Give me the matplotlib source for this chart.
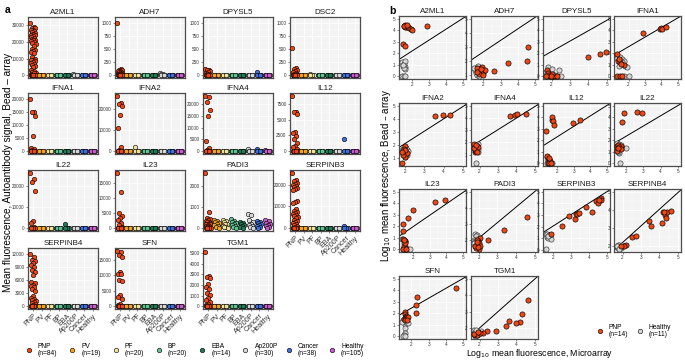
import matplotlib
matplotlib.use("Agg")
import matplotlib.pyplot as plt
from matplotlib.ticker import MultipleLocator

plt.rcParams['font.family'] = ['Liberation Sans', 'DejaVu Sans']

W, H = 685, 364

# ---------------- data: panel a ----------------
groups = ["PNP", "PV", "PF", "BP", "EBA", "Ap200P", "Cancer", "Healthy"]
group_n = [84, 19, 20, 20, 14, 30, 38, 105]
group_colors = ["#EC4715", "#F2A31F", "#EEE29C", "#5EC391", "#1F7A55",
                "#D6D6D6", "#3D6FDA", "#C65BC8"]

genes_a = ["A2ML1", "ADH7", "DPYSL5", "DSC2", "IFNA1", "IFNA2", "IFNA4", "IL12",
           "IL22", "IL23", "PADI3", "SERPINB3", "SERPINB4", "SFN", "TGM1"]

yticks_a = {
    "A2ML1": [0, 10000, 20000, 30000], "ADH7": [0, 250, 500, 750, 1000],
    "DPYSL5": [0, 250, 500, 750, 1000], "DSC2": [0, 250, 500, 750, 1000],
    "IFNA1": [0, 5000, 10000, 15000, 20000], "IFNA2": [0, 10000, 20000],
    "IFNA4": [0, 5000, 10000, 15000, 20000], "IL12": [0, 2500, 5000, 7500],
    "IL22": [0, 10000, 20000], "IL23": [0, 5000, 10000, 15000],
    "PADI3": [0, 1000, 2000], "SERPINB3": [0, 10000, 20000],
    "SERPINB4": [0, 3000, 6000, 9000, 12000], "SFN": [0, 5000, 10000, 15000],
    "TGM1": [0, 1000, 2000, 3000, 4000, 5000],
}
ymax_a = {"ADH7": 1000, "DPYSL5": 1000, "DSC2": 1000}

PNP = {
    "A2ML1": [31500, 29000, 28500, 28200, 27500, 27000, 26500, 26000, 25500, 25000,
              24500, 24000, 23500, 23000, 22500, 22000, 21500, 21000, 20500, 20000,
              19500, 19000, 17500, 16000, 15000, 14500, 14000, 13500, 11000, 10000,
              9500, 9000, 8500, 8000, 7500, 7000, 6000, 5500, 5000, 3000, 2500, 2000,
              1500, 1200, 800, 500, 300, 200, 100, 0, 0, 0, 0, 0, 0, 0, 0, 0, 0, 0],
    "ADH7": [1000, 130, 110, 100, 90, 80, 70, 60, 50, 40, 35, 30, 25, 20, 15, 10, 5,
             0, 0, 0, 0, 0, 0, 0, 0, 0],
    "DPYSL5": [130, 110, 95, 80, 60, 45, 30, 20, 10, 0, 0, 0, 0, 0, 0, 0, 0, 0],
    "DSC2": [530, 150, 130, 110, 90, 70, 50, 30, 20, 10, 0, 0, 0, 0, 0, 0, 0, 0],
    "IFNA1": [20000, 15300, 15000, 13500, 6000, 1200, 800, 500, 300, 100,
              0, 0, 0, 0, 0, 0, 0, 0, 0, 0],
    "IFNA2": [26000, 22500, 22000, 21000, 17000, 11000, 2000, 600, 300, 100,
              0, 0, 0, 0, 0, 0, 0, 0, 0, 0],
    "IFNA4": [23500, 23000, 21000, 17500, 15000, 4500, 1500, 600, 300, 100,
              0, 0, 0, 0, 0, 0, 0, 0, 0, 0],
    "IL12": [8800, 6300, 6200, 5900, 3000, 2900, 2400, 2000, 1300, 900, 600, 300, 100,
             0, 0, 0, 0, 0, 0, 0, 0, 0, 0],
    "IL22": [26500, 23500, 22000, 18000, 3500, 2500, 800, 300, 100,
             0, 0, 0, 0, 0, 0, 0, 0, 0, 0],
    "IL23": [18500, 12000, 5000, 4000, 3500, 2800, 1800, 1000, 500, 200,
             0, 0, 0, 0, 0, 0, 0, 0, 0, 0],
    "PADI3": [2600, 750, 500, 450, 400, 350, 300, 280, 250, 220, 200, 180, 150, 120,
              100, 80, 50, 30, 0, 0, 0, 0, 0, 0],
    "SERPINB3": [25500, 22000, 21500, 21000, 20500, 20000, 19500, 19000, 18500, 18000,
                 17500, 12500, 12000, 11500, 9000, 8000, 7500, 7000, 6500, 6000, 5500,
                 5000, 4500, 4000, 3500, 3000, 2500, 2000, 1500, 1000, 500, 300,
                 0, 0, 0, 0, 0, 0, 0, 0, 0, 0],
    "SERPINB4": [12000, 11500, 10800, 10500, 10000, 9500, 9200, 8500, 8000, 7200, 5700,
                 5300, 5000, 4700, 4500, 4000, 3500, 2400, 2000, 1800, 1500, 1200, 1000,
                 700, 500, 300, 100, 0, 0, 0, 0, 0, 0, 0, 0, 0, 0],
    "SFN": [18000, 17500, 16500, 16000, 11000, 10500, 10300, 8500, 8300, 3500, 3000,
            2500, 800, 400, 100, 0, 0, 0, 0, 0, 0, 0, 0, 0, 0],
    "TGM1": [5100, 2900, 2800, 2700, 2100, 1800, 1600, 1300, 1100, 800, 600, 400, 200,
             100, 0, 0, 0, 0, 0, 0, 0, 0, 0, 0],
}
# non-PNP groups: values near zero unless listed for a gene
baseline = [0, 0, 0, 0, 0, 0, 0]
PV = {"PADI3": [400, 350, 300, 250, 200, 150, 100, 50, 0]}
PF = {"DSC2": [20, 10, 0, 0, 0, 0], "IFNA2": [2000, 0, 0, 0, 0, 0, 0],
      "PADI3": [380, 320, 280, 220, 180, 120, 80, 40, 0]}
BP = {"PADI3": [420, 350, 300, 250, 200, 150, 100, 50, 0]}
EBA = {"IL22": [2200, 0, 0, 0, 0, 0], "PADI3": [300, 250, 200, 150, 100, 50, 0]}
AP200P = {"A2ML1": [1000, 0, 0, 0, 0, 0, 0], "ADH7": [40, 30, 20, 10, 0, 0, 0],
          "IFNA4": [1000, 300, 0, 0, 0, 0, 0],
          "PADI3": [650, 600, 400, 300, 200, 150, 100, 50, 0]}
CANCER = {"DPYSL5": [60, 0, 0, 0, 0, 0, 0], "IL12": [1900, 0, 0, 0, 0, 0, 0],
          "IFNA4": [800, 200, 0, 0, 0, 0, 0], "SERPINB3": [900, 0, 0, 0, 0, 0],
          "PADI3": [350, 300, 250, 200, 150, 100, 50, 0]}
HEALTHY = {"IFNA4": [700, 200, 0, 0, 0, 0, 0],
           "PADI3": [380, 320, 260, 200, 150, 100, 50, 0]}
group_data = [PNP, PV, PF, BP, EBA, AP200P, CANCER, HEALTHY]

# ---------------- data: panel b ----------------
genes_b = ["A2ML1", "ADH7", "DPYSL5", "IFNA1", "IFNA2", "IFNA4", "IL12", "IL22",
           "IL23", "PADI3", "SERPINB3", "SERPINB4", "SFN", "TGM1"]
b_pnp_x = {
    "A2ML1": [1.5, 1.6, 1.7, 1.55, 1.65, 1.75, 1.8, 1.9, 2.0, 2.9, 1.45, 1.6, 1.5, 1.7],
    "ADH7": [2.6, 3.4, 4.6, 4.55, 1.7, 1.8, 2.0, 1.6, 1.9, 1.75, 2.1, 1.65, 1.85, 1.95],
    "DPYSL5": [4.0, 4.6, 4.95, 1.75, 1.9, 2.0, 2.1, 1.8, 2.2, 1.85, 2.0, 1.95, 2.3, 1.7],
    "IFNA1": [2.85, 3.9, 4.0, 4.05, 4.25, 1.3, 1.35, 1.5, 1.7, 1.3, 1.45, 1.6, 1.4, 1.55],
    "IFNA2": [3.55, 3.95, 4.35, 2.0, 1.95, 1.85, 2.05, 1.9, 2.0, 1.95, 2.1, 1.9, 2.0, 1.85],
    "IFNA4": [3.65, 3.9, 4.05, 4.5, 1.7, 1.75, 1.8, 1.85, 1.75, 1.8, 1.9, 1.7, 1.85, 1.8],
    "IL12": [1.7, 1.7, 1.75, 1.8, 1.35, 2.95, 3.4, 1.4, 1.5, 1.6, 1.45, 1.55, 1.65, 1.5],
    "IL22": [1.9, 2.65, 2.95, 1.8, 1.5, 1.6, 1.7, 1.55, 1.65, 1.5, 1.75, 1.6, 1.7, 1.55],
    "IL23": [1.4, 1.7, 2.0, 3.35, 3.95, 1.4, 1.4, 1.5, 1.45, 1.5, 1.4, 1.6, 1.55, 1.45],
    "PADI3": [4.55, 3.35, 2.5, 2.05, 2.0, 1.9, 1.95, 1.85, 2.0, 1.9, 1.8, 2.05, 1.95, 1.9],
    "SERPINB3": [2.5, 2.9, 3.2, 3.25, 3.35, 3.45, 3.85, 4.15, 4.4, 4.5, 4.65, 4.65, 1.9, 4.55],
    "SERPINB4": [2.2, 2.5, 2.75, 3.45, 3.55, 4.15, 4.2, 4.3, 4.35, 4.4, 4.65, 2.1, 4.25, 1.9],
    "SFN": [4.6, 2.35, 2.25, 2.25, 1.6, 1.6, 1.7, 1.75, 1.65, 1.55, 1.7, 1.8, 1.6, 1.75],
    "TGM1": [4.6, 4.3, 4.2, 4.0, 3.6, 3.45, 2.9, 2.4, 2.2, 1.75, 1.85, 2.0, 1.7, 1.9],
}
b_pnp_y = {
    "A2ML1": [4.4, 4.5, 4.4, 4.3, 4.25, 4.3, 4.2, 4.1, 4.0, 4.4, 2.8, 2.6, 4.35, 4.45],
    "ADH7": [1.3, 1.85, 3.0, 2.05, 1.4, 1.3, 1.2, 1.5, 1.6, 1.1, 1.35, 1.25, 1.45, 1.05],
    "DPYSL5": [1.7, 1.95, 2.1, 0.55, 0.0, 0.0, 0.0, 0.3, 0.0, 0.1, 0.2, 0.05, 0.0, 0.0],
    "IFNA1": [3.8, 4.1, 4.2, 4.15, 4.3, 1.9, 1.3, 1.2, 1.0, 0.0, 0.0, 0.0, 1.5, 1.1],
    "IFNA2": [4.2, 4.3, 4.3, 1.95, 1.2, 0.6, 1.3, 1.5, 1.1, 1.7, 1.4, 1.25, 1.6, 1.45],
    "IFNA4": [4.2, 4.25, 4.3, 4.35, 1.9, 1.2, 1.5, 1.7, 1.4, 1.3, 1.6, 1.55, 1.25, 1.75],
    "IL12": [3.8, 4.0, 3.7, 3.3, 2.8, 3.5, 3.8, 0.6, 0.3, 0.2, 0.0, 0.0, 0.0, 0.45],
    "IL22": [4.35, 4.45, 4.4, 3.6, 1.5, 1.2, 1.4, 1.6, 1.3, 1.1, 1.5, 1.45, 1.25, 1.35],
    "IL23": [2.2, 2.7, 3.45, 4.1, 4.25, 1.6, 0.9, 0.7, 0.3, 0.0, 0.0, 0.0, 0.5, 0.8],
    "PADI3": [3.4, 2.6, 2.0, 2.1, 1.4, 1.7, 1.9, 1.5, 1.8, 2.0, 1.6, 1.6, 1.55, 1.85],
    "SERPINB3": [2.05, 2.9, 2.65, 3.1, 3.1, 3.15, 3.65, 3.3, 4.2, 4.05, 4.45, 4.3, 1.4, 4.3],
    "SERPINB4": [2.05, 2.5, 2.55, 3.4, 3.1, 3.25, 3.9, 3.7, 3.55, 3.85, 3.95, 2.0, 3.85, 1.95],
    "SFN": [4.2, 3.4, 2.7, 2.05, 2.1, 1.95, 1.8, 1.7, 1.6, 1.5, 1.55, 1.65, 1.4, 1.45],
    "TGM1": [3.7, 2.85, 2.35, 2.3, 2.45, 2.15, 1.8, 1.8, 1.7, 1.55, 1.6, 1.7, 1.65, 1.75],
}
b_hc_x = {
    "A2ML1": [1.4, 1.5, 1.6, 1.45, 1.55, 1.6, 1.5, 1.4, 1.5, 1.6, 1.45],
    "ADH7": [1.5, 1.6, 1.7, 1.55, 1.8, 1.6, 1.7, 1.9, 2.0, 1.45, 1.75],
    "DPYSL5": [1.8, 2.0, 2.4, 1.7, 1.9, 2.0, 2.1, 2.3, 2.5, 1.8, 2.2],
    "IFNA1": [1.3, 1.5, 1.6, 1.7, 1.4, 1.8, 1.9, 1.7, 2.0, 1.5, 1.6],
    "IFNA2": [1.9, 2.0, 2.1, 1.95, 2.05, 2.15, 1.85, 2.0, 2.1, 1.95, 2.05],
    "IFNA4": [1.9, 1.8, 1.75, 1.85, 1.7, 1.9, 1.8, 1.75, 1.85, 1.9, 1.8],
    "IL12": [1.4, 1.45, 1.5, 1.55, 1.4, 1.5, 1.6, 1.7, 1.45, 1.55, 1.65],
    "IL22": [1.5, 1.6, 1.55, 1.7, 2.0, 1.6, 1.65, 1.5, 1.6, 1.7, 1.55],
    "IL23": [1.35, 1.45, 1.5, 1.5, 1.6, 1.7, 1.8, 1.4, 1.45, 1.55, 1.5],
    "PADI3": [1.8, 1.9, 1.85, 1.75, 1.8, 1.85, 1.9, 1.95, 1.8, 1.75, 1.9],
    "SERPINB3": [1.6, 1.7, 1.75, 1.65, 1.7, 1.8, 1.9, 1.65, 1.75, 1.6, 1.7],
    "SERPINB4": [1.75, 1.8, 1.85, 1.9, 1.75, 1.8, 2.0, 1.85, 1.7, 1.95, 1.8],
    "SFN": [1.5, 1.55, 1.6, 1.65, 1.6, 1.55, 1.5, 1.6, 1.7, 1.8, 1.45],
    "TGM1": [1.7, 1.8, 1.9, 2.0, 1.75, 1.85, 1.95, 1.7, 1.8, 2.05, 1.75],
}
b_hc_y = {
    "A2ML1": [1.2, 1.1, 1.3, 0.9, 0.8, 0.6, 0.7, 0.0, 0.0, 0.0, 1.0],
    "ADH7": [1.4, 1.6, 1.7, 1.2, 1.5, 1.0, 1.3, 1.2, 1.4, 1.5, 0.95],
    "DPYSL5": [0.8, 0.6, 0.5, 0.4, 0.0, 0.0, 0.0, 0.0, 0.0, 0.2, 0.1],
    "IFNA1": [1.6, 1.7, 1.5, 1.3, 0.9, 0.9, 0.8, 0.0, 0.0, 1.4, 1.2],
    "IFNA2": [1.7, 1.8, 1.6, 1.4, 1.3, 1.5, 1.6, 1.1, 1.2, 1.5, 1.75],
    "IFNA4": [1.9, 1.6, 1.5, 1.4, 1.7, 1.2, 0.3, 1.8, 1.65, 1.45, 1.35],
    "IL12": [0.5, 0.3, 0.2, 0.1, 0.0, 0.0, 0.0, 0.0, 0.15, 0.4, 0.05],
    "IL22": [1.8, 1.7, 1.5, 1.3, 1.3, 0.9, 0.0, 1.4, 1.6, 1.55, 1.0],
    "IL23": [0.9, 0.8, 0.6, 0.3, 0.0, 0.0, 0.0, 0.0, 0.5, 0.7, 0.1],
    "PADI3": [2.35, 2.3, 2.2, 2.0, 1.9, 1.8, 1.7, 1.6, 1.6, 1.8, 2.05],
    "SERPINB3": [1.4, 1.3, 1.2, 1.1, 1.0, 1.2, 0.95, 1.35, 1.25, 0.05, 1.15],
    "SERPINB4": [2.05, 1.95, 2.0, 1.85, 1.85, 2.05, 1.95, 1.9, 1.95, 2.05, 1.8],
    "SFN": [1.4, 1.3, 1.1, 0.7, 0.3, 0.1, 0.0, 0.0, 1.2, 1.15, 1.25],
    "TGM1": [1.85, 1.8, 1.75, 1.7, 1.6, 1.55, 1.65, 1.7, 1.9, 1.8, 1.5],
}
# reference line per gene: (intercept, slope)
b_line = {
    "A2ML1": (0.30, 0.95), "ADH7": (1.05, 0.81), "DPYSL5": (0.33, 0.91),
    "IFNA1": (0.89, 0.84), "IFNA2": (0.20, 0.95), "IFNA4": (0.20, 0.95),
    "IL12": (0.44, 0.92), "IL22": (0.53, 0.90), "IL23": (-0.05, 1.0),
    "PADI3": (0.13, 0.98), "SERPINB3": (0.07, 0.99), "SERPINB4": (0.31, 0.93),
    "SFN": (0.73, 0.86), "TGM1": (0.0, 1.0),
}
b_groups = ["PNP", "Healthy"]
b_n = [14, 11]
b_colors = ["#EC4715", "#D6D6D6"]

# ---------------- drawing ----------------
fig = plt.figure(figsize=(W / 100, H / 100), dpi=100)
PANEL_BG = "#F3F3F3"
SPINE = "#4D4D4D"


def px_axes(left, top, width, height):
    return fig.add_axes([left / W, 1 - (top + height) / H, width / W, height / H])


def style(ax):
    ax.set_facecolor(PANEL_BG)
    for s in ax.spines.values():
        s.set_color(SPINE)
        s.set_linewidth(0.9)
    ax.grid(True, which="major", color="white", lw=0.6)
    ax.grid(True, which="minor", color="white", lw=0.3)
    ax.set_axisbelow(True)
    ax.tick_params(which="major", length=1.5, width=0.4, color="#333333",
                   labelsize=3.3, pad=1, labelcolor="#333333")
    ax.tick_params(which="minor", length=0)


a_cols = [28, 115, 203, 290]
a_rows = [17, 93, 170, 248]
a_w, a_h = 70, 61
SZ = 10.5

for gi, gene in enumerate(genes_a):
    r, c = divmod(gi, 4)
    ax = px_axes(a_cols[c], a_rows[r], a_w, a_h)
    style(ax)
    allv = []
    for k, gd in enumerate(group_data):
        vals = gd.get(gene, baseline)
        allv += vals
        n = len(vals)
        xs = [k + ((j * 0.6180339887) % 1 - 0.5) * 0.62 for j in range(n)]
        ax.scatter(xs, vals, s=SZ, color=group_colors[k], edgecolor="black",
                   linewidth=0.4, zorder=3)
    top = max(max(allv), ymax_a.get(gene, 0))
    ax.set_ylim(-0.05 * top, top * 1.05)
    ax.set_xlim(-0.6, 7.6)
    ax.set_yticks(yticks_a[gene])
    ax.set_yticklabels([str(v) for v in yticks_a[gene]])
    yt = yticks_a[gene]
    ax.set_yticks([(yt[i] + yt[i + 1]) / 2 for i in range(len(yt) - 1)] +
                  [yt[-1] + (yt[1] - yt[0]) / 2], minor=True)
    ax.set_xticks(range(8))
    bottom = (r == 3) or (r == 2 and c == 3)
    if bottom:
        ax.set_xticklabels(groups, rotation=45, ha="right", rotation_mode="anchor",
                           fontsize=5.1, color="#333333")
    else:
        ax.set_xticklabels([])
        ax.tick_params(axis="x", length=0)
    ax.set_title(gene, fontsize=5.8, pad=2.5, color="#1A1A1A")

b_cols = [399, 471, 543, 614]
b_rows = [16, 103, 189, 276]
b_w, b_h = 67, 63

for gi, gene in enumerate(genes_b):
    r, c = divmod(gi, 4)
    ax = px_axes(b_cols[c], b_rows[r], b_w, b_h)
    style(ax)
    xs_all = b_pnp_x[gene] + b_hc_x[gene]
    ys_all = b_pnp_y[gene] + b_hc_y[gene]
    x0, x1 = min(xs_all), max(max(xs_all), 5)
    y0, y1 = min(ys_all), max(max(ys_all), 5)
    ax.set_xlim(x0 - 0.05 * (x1 - x0), x1 + 0.05 * (x1 - x0))
    ax.set_ylim(y0 - 0.05 * (y1 - y0), y1 + 0.05 * (y1 - y0))
    ax.xaxis.set_major_locator(MultipleLocator(1))
    ax.yaxis.set_major_locator(MultipleLocator(1))
    ax.xaxis.set_minor_locator(MultipleLocator(0.5))
    ax.yaxis.set_minor_locator(MultipleLocator(0.5))
    ax.xaxis.set_major_formatter(lambda v, p: f"{v:.0f}")
    ax.yaxis.set_major_formatter(lambda v, p: f"{v:.0f}")
    ic, sl = b_line[gene]
    ax.axline((0, ic), slope=sl, color="black", lw=0.7, zorder=2)
    ax.scatter(b_hc_x[gene], b_hc_y[gene], s=14, color=b_colors[1], edgecolor="#333333",
               linewidth=0.45, zorder=3)
    ax.scatter(b_pnp_x[gene], b_pnp_y[gene], s=14, color=b_colors[0], edgecolor="black",
               linewidth=0.45, zorder=4)
    ax.set_title(gene, fontsize=5.8, pad=2.5, color="#1A1A1A")

# overlay for labels / legends
ov = fig.add_axes([0, 0, 1, 1], facecolor="none")
ov.set_xlim(0, W)
ov.set_ylim(H, 0)
ov.axis("off")

ov.text(5, 10, "a", fontsize=7.5, fontweight="bold", va="center")
ov.text(389, 11, "b", fontsize=7.5, fontweight="bold", va="center")
ov.text(8, 172, "Mean fluorescence, Autoantibody signal, Bead \u2013 array", rotation=90,
        fontsize=7.2, ha="center", va="center")
ov.text(386, 175, "Log$_{10}$ mean fluorescence, Bead \u2013 array", rotation=90,
        fontsize=7.0, ha="center", va="center")
ov.text(540, 354, "Log$_{10}$ mean fluorescence, Microarray", fontsize=6.3,
        ha="center", va="center")

for k, g in enumerate(groups):
    cx = 29 + 43.3 * k
    ov.scatter([cx], [350], s=SZ, color=group_colors[k], edgecolor="black", linewidth=0.4)
    ov.text(cx + 9, 350, f"{g}\n(n={group_n[k]})", fontsize=4.8, va="center", ha="left",
            linespacing=1.1)

for k, g in enumerate(b_groups):
    cx = 600 + 40 * k
    ov.scatter([cx], [331], s=SZ, color=b_colors[k], edgecolor="black", linewidth=0.4)
    ov.text(cx + 9, 331, f"{g}\n(n={b_n[k]})", fontsize=4.8, va="center", ha="left",
            linespacing=1.1)

fig.savefig("out.png", dpi=100)
